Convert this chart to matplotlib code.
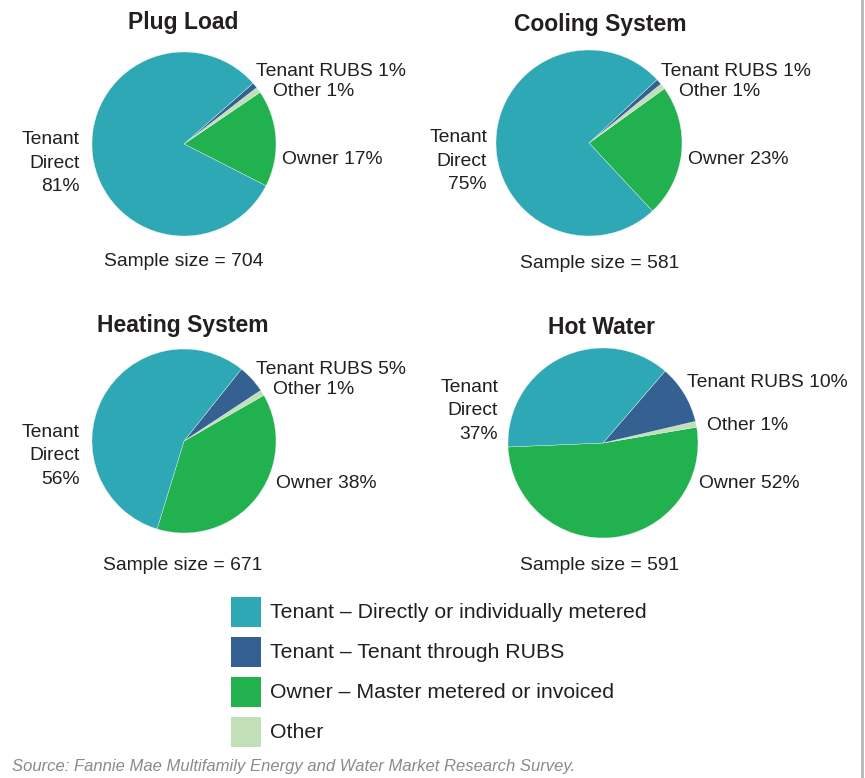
import matplotlib
matplotlib.use("Agg")
import matplotlib.pyplot as plt
from matplotlib.patches import Rectangle

# Share of properties by who pays each utility
titles = ["Plug Load", "Cooling System", "Heating System", "Hot Water"]
categories = ["Owner", "Other", "Tenant RUBS", "Tenant Direct"]
owner = [17, 23, 38, 52]
other = [1, 1, 1, 1]
tenant_rubs = [1, 1, 5, 10]
tenant_direct = [81, 75, 56, 37]
sample_sizes = [704, 581, 671, 591]

legend_labels = [
    "Tenant \u2013 Directly or individually metered",
    "Tenant \u2013 Tenant through RUBS",
    "Owner \u2013 Master metered or invoiced",
    "Other",
]
source_note = "Source: Fannie Mae Multifamily Energy and Water Market Research Survey."

COL_DIRECT = "#2ea8b4"
COL_RUBS = "#356192"
COL_OWNER = "#21b24f"
COL_OTHER = "#c2e0b8"
TEXT = "#231f20"

W, H = 865, 778
plt.rcParams["font.family"] = ["Liberation Sans", "DejaVu Sans"]

fig = plt.figure(figsize=(W / 100, H / 100), dpi=100)


def fx(x):
    return x / W


def fy(y):
    # pixel rows count down from the top; nudge text a touch lower
    return 1 - y / H


# per pie layout: centre, radius, start angle of the owner wedge,
# title pos, label anchors (x, y) in pixels
layout = [
    dict(c=(184, 144), r=92, start=-27, title=(183, 23), sample=(184, 261),
         rubs=(256, 72), other=(273, 91), own=(282, 159), direct=(80, 163)),
    dict(c=(589, 143), r=93, start=-47, title=(600, 24), sample=(600, 264),
         rubs=(661, 71), other=(679, 91), own=(688, 159), direct=(487, 161)),
    dict(c=(184, 441), r=92, start=-107, title=(183, 325), sample=(183, 565),
         rubs=(256, 370), other=(273, 390), own=(276, 483), direct=(80, 456)),
    dict(c=(603, 443), r=95, start=-177.6, title=(602, 328), sample=(600, 565),
         rubs=(687, 382), other=(707, 426), own=(699, 483), direct=(498, 411)),
]

lab_kw = dict(fontsize=13.9, color=TEXT, va="center")

for i, lay in enumerate(layout):
    cx, cy = lay["c"]
    r = lay["r"]
    ax = fig.add_axes([fx(cx - r), fy(cy + r), 2 * r / W, 2 * r / H])
    vals = [owner[i], other[i], tenant_rubs[i], tenant_direct[i]]
    ax.pie(vals, colors=[COL_OWNER, COL_OTHER, COL_RUBS, COL_DIRECT],
           startangle=lay["start"], counterclock=True, radius=1,
           wedgeprops=dict(edgecolor="#e8f4ee", linewidth=0.25))
    ax.set_xlim(-1, 1)
    ax.set_ylim(-1, 1)
    ax.set_aspect("equal")
    ax.axis("off")

    tx, ty = lay["title"]
    fig.text(fx(tx), fy(ty), titles[i], fontsize=16.5, fontweight="bold",
             color=TEXT, ha="center", va="center")
    x, y = lay["rubs"]
    fig.text(fx(x), fy(y), f"Tenant RUBS {tenant_rubs[i]}%", ha="left", **lab_kw)
    x, y = lay["other"]
    fig.text(fx(x), fy(y), f"Other {other[i]}%", ha="left", **lab_kw)
    x, y = lay["own"]
    fig.text(fx(x), fy(y), f"Owner {owner[i]}%", ha="left", **lab_kw)
    x, y = lay["direct"]
    fig.text(fx(x), fy(y), f"Tenant\nDirect\n{tenant_direct[i]}%", ha="right",
             multialignment="right", linespacing=1.5, **lab_kw)
    x, y = lay["sample"]
    fig.text(fx(x), fy(y), f"Sample size = {sample_sizes[i]}", ha="center",
             **lab_kw)

# legend drawn as swatches plus labels
for k, (lab, col) in enumerate(zip(legend_labels,
                                   [COL_DIRECT, COL_RUBS, COL_OWNER, COL_OTHER])):
    top = 597 + 40 * k
    fig.patches.append(Rectangle((fx(231), fy(top + 30)), 30 / W, 30 / H,
                                 transform=fig.transFigure, color=col,
                                 linewidth=0))
    fig.text(fx(270), fy(top + 16), lab, fontsize=15.3, color=TEXT,
             ha="left", va="center")

fig.text(fx(12), fy(766), source_note, fontsize=12, style="italic",
         color="#8a8a8a", ha="left", va="center")

# grey rule along the right edge
fig.patches.append(Rectangle((fx(861), 0), 3 / W, 1, transform=fig.transFigure,
                             color="#bcbcbc", linewidth=0))

fig.savefig("out.png", dpi=100)
